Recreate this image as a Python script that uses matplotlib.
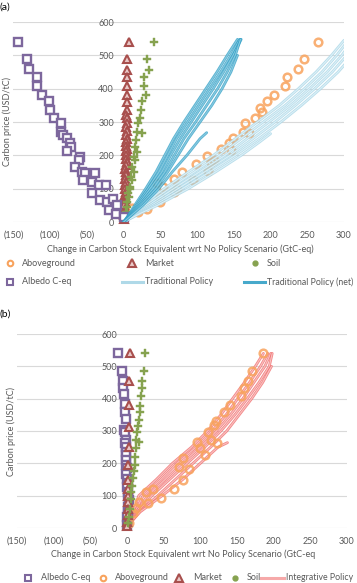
import matplotlib
matplotlib.use("Agg")
import matplotlib.pyplot as plt
import matplotlib.patheffects as pe
from matplotlib.lines import Line2D
from matplotlib.ticker import FuncFormatter

plt.rcParams['font.family'] = ['Lato', 'DejaVu Sans']

# ---- panel (a) data ----
alb_a_x = [-144, -132, -129, -118, -118, -111, -102, -100, -95, -85, -85, -82, -77, -73, -72, -77, -60,
           -61, -66, -57, -52, -55, -39, -43, -34, -24, -43, -32, -23, -14, -20, -9, -11, 0]
alb_a_y = [541, 488, 458, 434, 409, 382, 363, 336, 311, 296, 271, 261, 251, 236, 226, 214, 194,
           186, 166, 151, 146, 126, 146, 121, 111, 111, 86, 65, 60, 70, 35, 50, 25, 15]

mkt_a_y = [540, 488, 456, 434, 408, 381, 361, 336, 320, 311, 296, 285, 272, 262, 250, 240, 228, 220, 212, 200,
           190, 180, 170, 160, 150, 140, 130, 120, 110, 100, 90, 80, 70, 60, 50, 40, 30, 20, 10]
mkt_a_x = [7, 4, 5, 4, 4, 5, 4, 4, 3, 4, 4, 3, 4, 3, 4, 3, 3, 4, 3, 3,
           3, 4, 3, 2, 3, 3, 2, 3, 2, 2, 3, 2, 2, 2, 1, 2, 1, 1, 0]

soil_a_x = [41, 32, 35, 28, 28, 30, 25, 23, 22, 20, 18, 25, 17, 16, 18, 14, 16, 11, 14, 10, 12, 8, 9, 6, 7, 5, 4, 3, 2]
soil_a_y = [541, 488, 456, 434, 408, 381, 363, 336, 311, 296, 271, 266, 246, 226, 211, 196, 186, 166, 151, 136,
            125, 106, 98, 86, 75, 60, 45, 30, 15]

ag_a_x = [265, 245, 238, 223, 219, 205, 195, 186, 188, 179, 165, 162, 170, 149, 143, 146, 132, 123, 119, 113,
          115, 99, 94, 80, 69, 73, 68, 53, 46, 50, 50, 30, 32, 19, 12]
ag_a_y = [541, 488, 458, 434, 409, 382, 363, 341, 331, 311, 296, 271, 266, 251, 237, 216, 219, 186, 181, 198,
          154, 173, 126, 151, 128, 98, 91, 106, 116, 76, 61, 61, 39, 31, 42]

# traditional policy curves (x at each price level)
trad_p = [0, 25, 50, 100, 150, 200, 250, 300, 350, 400, 450, 500, 545]
trad_lines = [
    [0, 12, 26, 55, 88, 122, 152, 182, 212, 238, 262, 283, 300],
    [0, 14, 30, 62, 96, 130, 160, 190, 220, 246, 270, 290, 306],
    [0, 16, 34, 68, 103, 138, 168, 198, 227, 253, 277, 297, 312],
    [0, 18, 38, 74, 110, 145, 176, 206, 234, 260, 284, 304, 318],
    [0, 20, 42, 80, 117, 152, 184, 214, 242, 268, 292, 312, 325],
]
trad_short_p = [0, 25, 50, 100, 150, 200, 240, 265]
trad_short_x = [0, 22, 46, 88, 125, 160, 185, 200]

net_p = [0, 25, 50, 100, 150, 200, 250, 300, 350, 400, 450, 500, 548]
net_lines = [
    [0, 8, 15, 30, 44, 56, 68, 82, 97, 112, 127, 141, 155],
    [0, 9, 17, 33, 48, 60, 72, 87, 102, 117, 132, 146, 158],
    [0, 10, 19, 36, 52, 64, 77, 92, 107, 122, 136, 149, 160],
    [0, 11, 21, 40, 56, 69, 82, 98, 113, 128, 141, 152, 159],
    [0, 12, 23, 44, 60, 74, 88, 104, 120, 134, 146, 155],
]
net_short_p = [0, 25, 50, 100, 150, 200, 250, 268]
net_short_x = [0, 13, 26, 48, 66, 86, 104, 113]

# ---- panel (b) data ----
alb_b_x = [-12, -7, -6, -5, -4, -3, -3, -2, -4, -3, -2, -3, -2, -1, -2, -1, -1, 0, -1, 0, 1, 0, 2, 1, 3, 1, 2, 0, 1, 0]
alb_b_y = [540, 486, 456, 434, 413, 385, 360, 336, 304, 296, 272, 262, 250, 236, 225, 211, 196, 186, 166, 151,
           140, 126, 111, 100, 86, 66, 50, 35, 20, 8]

mkt_b_x = [4.5, 3.2, 2.3, 3.2, 2.3, 1.5, 1, 1, 1, 1, 1, 1, 0.5, 0.5]
mkt_b_y = [540, 454, 380, 311, 250, 195, 150, 120, 100, 80, 60, 40, 20, 5]

soil_b_x = [24, 23, 21, 20, 19, 18, 18, 16, 15, 14, 12, 16, 12, 11, 11, 9, 8, 7, 6, 5, 4, 3, 2]
soil_b_y = [540, 486, 456, 432, 408, 378, 358, 335, 316, 296, 271, 265, 246, 220, 195, 175, 155, 130, 110, 90,
            60, 35, 15]

ag_b_x = [185, 171, 165, 160, 156, 140, 132, 122, 119, 110, 123, 114, 96, 100, 107, 76, 71, 85, 77, 64,
          46, 36, 26, 28, 17, 12, 8, 3]
ag_b_y = [540, 486, 456, 432, 408, 381, 358, 330, 320, 296, 262, 272, 267, 246, 226, 216, 190, 181, 148, 120,
          94, 120, 112, 76, 81, 62, 45, 15]

integ_p = [0, 25, 50, 100, 150, 200, 250, 300, 350, 400, 450, 500, 540]
integ_lines = [
    [0, 4, 9, 16, 40, 62, 88, 110, 128, 144, 160, 175, 186],
    [0, 5, 11, 22, 46, 68, 94, 116, 135, 151, 167, 182, 192],
    [0, 6, 13, 28, 52, 75, 100, 122, 141, 158, 173, 188, 196],
    [0, 7, 15, 34, 58, 82, 106, 128, 147, 164, 180, 194, 198],
    [0, 8, 17, 42, 66, 90, 114, 136, 153, 170, 185, 197],
]
integ_short_p = [0, 25, 50, 100, 150, 200, 250, 264]
integ_short_x = [0, 8, 18, 48, 76, 100, 124, 137]

# ---- styles ----
PURPLE = '#7d679d'
ORANGE = '#f8a35d'
RED = '#a84f4d'
GREEN = '#86a24f'
TRAD = '#a6d5e6'
TRAD_IN = '#dcf0f7'
NET = '#33a0c6'
NET_IN = '#86c9e0'
INTEG = '#f06a6a'
INTEG_IN = '#f9c0c0'
GREY = '#595959'

W, H = 357, 583
fig = plt.figure(figsize=(W / 100, H / 100), dpi=100)


def px_axes(left, right, top, bottom):
    return fig.add_axes([left / W, 1 - bottom / H, (right - left) / W, (bottom - top) / H])


def fmt_x(v, pos):
    return f'({abs(int(v))})' if v < 0 else f'{int(v)}'


def style(ax):
    ax.set_xlim(-150, 300)
    ax.set_ylim(0, 600)
    ax.set_xticks(range(-150, 301, 50))
    ax.set_yticks(range(0, 601, 100))
    ax.xaxis.set_major_formatter(FuncFormatter(fmt_x))
    for s in ['top', 'right', 'bottom']:
        ax.spines[s].set_visible(False)
    ax.spines['left'].set_position(('data', 0))
    ax.spines['left'].set_visible(False)
    ax.grid(axis='y', color='#d9d9d9', lw=0.8)
    ax.set_axisbelow(True)
    ax.tick_params(axis='both', length=0, labelsize=6.5, colors=GREY)
    ax.tick_params(axis='x', pad=6.5)
    ax.tick_params(axis='y', pad=7)


def band(ax, xs, ys, edge, inner, z):
    # outlined line: darker edge with a lighter core
    ax.plot(xs, ys, color=inner, lw=0.8, zorder=z, solid_capstyle='round',
            path_effects=[pe.Stroke(linewidth=2.0, foreground=edge, alpha=0.8), pe.Normal()])


mk_alb = dict(ls='none', marker='s', ms=5.5, mfc='white', mec=PURPLE, mew=1.7, zorder=3, clip_on=False)
mk_ag = dict(ls='none', marker='o', ms=5.5, mfc='none', mec=ORANGE, mew=1.8, alpha=0.85, zorder=3, clip_on=False)
mk_mkt = dict(ls='none', marker='^', ms=6, mfc='#e9c9c8', mec=RED, mew=1.5, zorder=3, clip_on=False)
mk_soil = dict(ls='none', marker='P', ms=5.5, mfc=GREEN, mec=GREEN, mew=0.3, zorder=3, clip_on=False)

# ---- panel (a) ----
ax1 = px_axes(13.5, 344, 22, 222)
style(ax1)
ax1.plot(ag_a_x, ag_a_y, **mk_ag)
ax1.plot(mkt_a_x, mkt_a_y, **mk_mkt)
ax1.plot(soil_a_x, soil_a_y, **mk_soil)
ax1.plot(alb_a_x, alb_a_y, **mk_alb)
for xs in trad_lines:
    band(ax1, xs, trad_p[:len(xs)], TRAD, TRAD_IN, 4)
band(ax1, trad_short_x, trad_short_p, TRAD, TRAD_IN, 4)
for xs in net_lines:
    band(ax1, xs, net_p[:len(xs)], NET, NET_IN, 4)
band(ax1, net_short_x, net_short_p, NET, NET_IN, 4)

# ---- panel (b) ----
ax2 = px_axes(17, 347, 334, 528)
style(ax2)
for xs in integ_lines:
    band(ax2, xs, integ_p[:len(xs)], INTEG, INTEG_IN, 2)
band(ax2, integ_short_x, integ_short_p, INTEG, INTEG_IN, 2)
ax2.plot(alb_b_x, alb_b_y, **mk_alb)
ax2.plot(ag_b_x, ag_b_y, **mk_ag)
ax2.plot(mkt_b_x, mkt_b_y, **mk_mkt)
ax2.plot(soil_b_x, soil_b_y, **mk_soil)

# ---- labels ----
def ftext(x, y, s, **kw):
    fig.text(x / W, 1 - y / H, s, **kw)


ftext(0, 7, '(a)', fontsize=7.5, va='center', ha='left', color='black')
ftext(0, 314, '(b)', fontsize=7.5, va='center', ha='left', color='black')
ftext(7, 122, 'Carbon price (USD/tC)', fontsize=6.5, rotation=90, va='center', ha='center', color=GREY)
ftext(11, 431, 'Carbon price (USD/tC)', fontsize=6.5, rotation=90, va='center', ha='center', color=GREY)
ftext(180, 249, 'Change in Carbon Stock Equivalent wrt No Policy Scenario (GtC-eq)', fontsize=6.5,
      va='center', ha='center', color=GREY)
ftext(183, 554, 'Change in Carbon Stock Equivalent wrt No Policy Scenario (GtC-eq', fontsize=6.5,
      va='center', ha='center', color=GREY)


# ---- legends (drawn by hand to match spacing) ----
def leg_marker(x, y, **kw):
    fig.add_artist(Line2D([x / W], [1 - y / H], transform=fig.transFigure, **kw))


def leg_line(x0, x1, y, color):
    fig.add_artist(Line2D([x0 / W, x1 / W], [1 - y / H, 1 - y / H], transform=fig.transFigure,
                          color=color, lw=2.2, alpha=0.9))


def leg_text(x, y, s, size=6.5):
    ftext(x, y, s, fontsize=size, va='center', ha='left', color=GREY)


leg_marker(10, 263, ls='none', marker='o', ms=4, mfc='white', mec=ORANGE, mew=1.5)
leg_text(22, 263, 'Aboveground')
leg_marker(132, 263, ls='none', marker='^', ms=6, mfc='#e9c9c8', mec=RED, mew=1.5)
leg_text(145, 263, 'Market')
leg_marker(255, 263, ls='none', marker='o', ms=3.5, mfc=GREEN, mec=GREEN)
leg_text(267, 263, 'Soil')
leg_marker(10, 282, ls='none', marker='s', ms=4.5, mfc='white', mec=PURPLE, mew=1.5)
leg_text(22, 282, 'Albedo C-eq')
leg_line(122, 143, 282, TRAD)
leg_text(145, 282, 'Traditional Policy')
leg_line(244, 265, 282, NET)
leg_text(267, 282, 'Traditional Policy (net)', size=6.3)

leg_marker(28, 578, ls='none', marker='s', ms=4.5, mfc='white', mec=PURPLE, mew=1.5)
leg_text(41, 578, 'Albedo C-eq')
leg_marker(103, 578, ls='none', marker='o', ms=4, mfc='white', mec=ORANGE, mew=1.5)
leg_text(115, 578, 'Aboveground')
leg_marker(179, 578, ls='none', marker='^', ms=6, mfc='#e9c9c8', mec=RED, mew=1.5)
leg_text(193, 578, 'Market')
leg_marker(235, 578, ls='none', marker='o', ms=3.5, mfc=GREEN, mec=GREEN)
leg_text(247, 578, 'Soil')
leg_line(261, 284, 578, '#f6a0a0')
leg_text(286, 578, 'Integrative Policy', size=6.3)

fig.savefig('out.png', dpi=100)
